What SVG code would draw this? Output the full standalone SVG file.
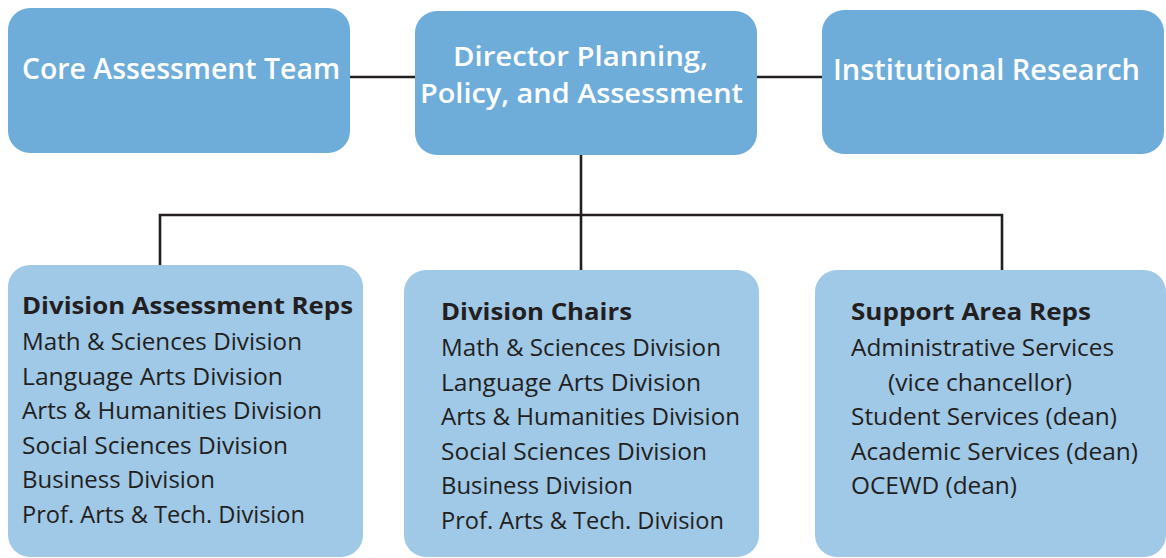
<svg xmlns="http://www.w3.org/2000/svg" width="1166" height="558" viewBox="0 0 1166 558">
<style>
.top{fill:#6EADDA}
.bot{fill:#A0C8E7}
.tt{font-family:"Open Sans","Liberation Sans",sans-serif;font-weight:600;font-size:28px;fill:#FFFFFF}
.t2{font-family:"Open Sans","Liberation Sans",sans-serif;font-weight:600;font-size:27px;fill:#FFFFFF}
.hd{font-family:"Open Sans","Liberation Sans",sans-serif;font-weight:700;font-size:23px;fill:#231F20}
.it{font-family:"Open Sans","Liberation Sans",sans-serif;font-weight:400;font-size:23px;fill:#231F20}
.ln{stroke:#231F20;stroke-width:2.6;fill:none}
</style>
<rect width="1166" height="558" fill="#FFFFFF"/>
<g id="connectors">
<line class="ln" x1="350" y1="77" x2="415" y2="77"/>
<line class="ln" x1="757" y1="77" x2="822" y2="77"/>
<line class="ln" x1="581" y1="155" x2="581" y2="270"/>
<polyline class="ln" points="160,265 160,215 1002,215 1002,270"/>
</g>
<g id="core">
<rect class="top" x="8" y="8" width="342" height="145" rx="22"/>
<text class="tt" x="22" y="79" textLength="318" lengthAdjust="spacingAndGlyphs">Core Assessment Team</text>
</g>
<g id="director">
<rect class="top" x="415" y="11" width="342" height="144" rx="22"/>
<text class="t2" x="453" y="66" textLength="255" lengthAdjust="spacingAndGlyphs">Director Planning,</text>
<text class="t2" x="420" y="103" textLength="323" lengthAdjust="spacingAndGlyphs">Policy, and Assessment</text>
</g>
<g id="institutional">
<rect class="top" x="822" y="10" width="342" height="144" rx="22"/>
<text class="tt" x="833" y="80" textLength="307" lengthAdjust="spacingAndGlyphs">Institutional Research</text>
</g>
<g id="reps">
<rect class="bot" x="8" y="265" width="355" height="292" rx="22"/>
<text class="hd" x="22" y="314" textLength="331" lengthAdjust="spacingAndGlyphs">Division Assessment Reps</text>
<text class="it" x="22" y="350" textLength="280" lengthAdjust="spacingAndGlyphs">Math &amp; Sciences Division</text>
<text class="it" x="22" y="384.5" textLength="261" lengthAdjust="spacingAndGlyphs">Language Arts Division</text>
<text class="it" x="22" y="419" textLength="300" lengthAdjust="spacingAndGlyphs">Arts &amp; Humanities Division</text>
<text class="it" x="22" y="453.5" textLength="266" lengthAdjust="spacingAndGlyphs">Social Sciences Division</text>
<text class="it" x="22" y="488" textLength="193" lengthAdjust="spacingAndGlyphs">Business Division</text>
<text class="it" x="22" y="522.5" textLength="283" lengthAdjust="spacingAndGlyphs">Prof. Arts &amp; Tech. Division</text>
</g>
<g id="chairs">
<rect class="bot" x="404" y="270" width="355" height="287" rx="22"/>
<text class="hd" x="441" y="320" textLength="191" lengthAdjust="spacingAndGlyphs">Division Chairs</text>
<text class="it" x="441" y="356" textLength="280" lengthAdjust="spacingAndGlyphs">Math &amp; Sciences Division</text>
<text class="it" x="441" y="390.5" textLength="260" lengthAdjust="spacingAndGlyphs">Language Arts Division</text>
<text class="it" x="441" y="425" textLength="299" lengthAdjust="spacingAndGlyphs">Arts &amp; Humanities Division</text>
<text class="it" x="441" y="459.5" textLength="266" lengthAdjust="spacingAndGlyphs">Social Sciences Division</text>
<text class="it" x="441" y="494" textLength="192" lengthAdjust="spacingAndGlyphs">Business Division</text>
<text class="it" x="441" y="528.5" textLength="283" lengthAdjust="spacingAndGlyphs">Prof. Arts &amp; Tech. Division</text>
</g>
<g id="support">
<rect class="bot" x="815" y="270" width="351" height="287" rx="22"/>
<text class="hd" x="851" y="320" textLength="240" lengthAdjust="spacingAndGlyphs">Support Area Reps</text>
<text class="it" x="851" y="356" textLength="263" lengthAdjust="spacingAndGlyphs">Administrative Services</text>
<text class="it" x="888" y="390.5" textLength="184" lengthAdjust="spacingAndGlyphs">(vice chancellor)</text>
<text class="it" x="851" y="425" textLength="266" lengthAdjust="spacingAndGlyphs">Student Services (dean)</text>
<text class="it" x="851" y="459.5" textLength="287" lengthAdjust="spacingAndGlyphs">Academic Services (dean)</text>
<text class="it" x="851" y="494" textLength="166" lengthAdjust="spacingAndGlyphs">OCEWD (dean)</text>
</g>
</svg>
